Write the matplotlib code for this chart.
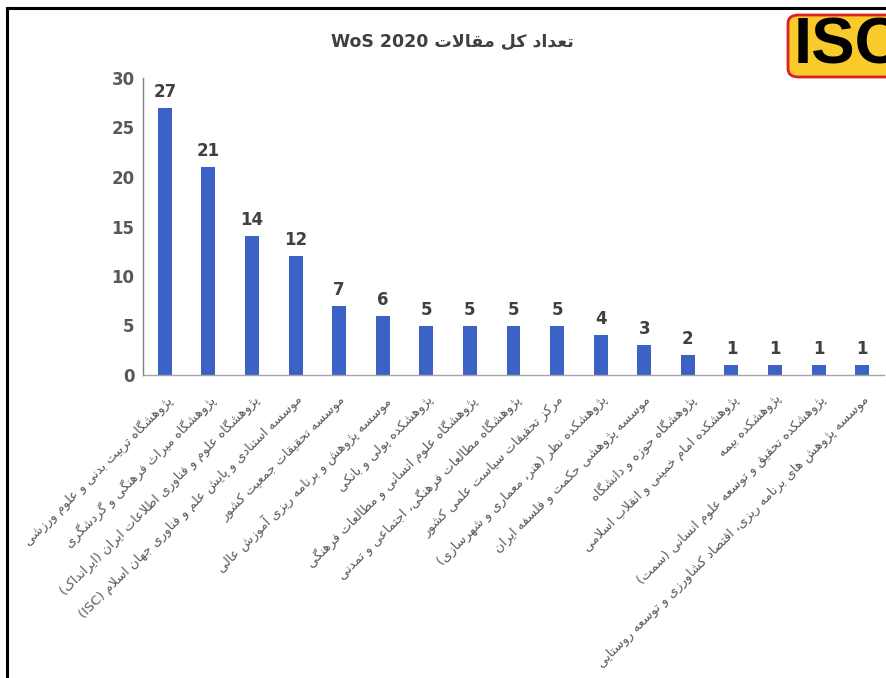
import matplotlib
matplotlib.use("Agg")
import matplotlib.pyplot as plt
from matplotlib.patches import FancyBboxPatch
from matplotlib.lines import Line2D

# ---------------- data ----------------
title_text = "تعداد کل مقالات WoS 2020"
categories = [
    "پژوهشگاه تربیت بدنی و علوم ورزشی",
    "پژوهشگاه میراث فرهنگی و گردشگری",
    "پژوهشگاه علوم و فناوری اطلاعات ایران (ایرانداک)",
    "موسسه استنادی و پایش علم و فناوری جهان اسلام (ISC)",
    "موسسه تحقیقات جمعیت کشور",
    "موسسه پژوهش و برنامه ریزی آموزش عالی",
    "پژوهشکده پولی و بانکی",
    "پژوهشگاه علوم انسانی و مطالعات فرهنگی",
    "پژوهشگاه مطالعات فرهنگی، اجتماعی و تمدنی",
    "مرکز تحقیقات سیاست علمی کشور",
    "پژوهشکده نظر (هنر، معماری و شهرسازی)",
    "موسسه پژوهشی حکمت و فلسفه ایران",
    "پژوهشگاه حوزه و دانشگاه",
    "پژوهشکده امام خمینی و انقلاب اسلامی",
    "پژوهشکده بیمه",
    "پژوهشکده تحقیق و توسعه علوم انسانی (سمت)",
    "موسسه پژوهش های برنامه ریزی، اقتصاد کشاورزی و توسعه روستایی",
]
values = [27, 21, 14, 12, 7, 6, 5, 5, 5, 5, 4, 3, 2, 1, 1, 1, 1]
yticks = [0, 5, 10, 15, 20, 25, 30]
logo_text = "ISC"

# ---------------- minimal Arabic/Persian shaping + bidi ----------------
FORMS = {
    'ا': (0xFE8D, 0xFE8E, None, None), 'آ': (0xFE81, 0xFE82, None, None),
    'أ': (0xFE83, 0xFE84, None, None), 'إ': (0xFE87, 0xFE88, None, None),
    'ب': (0xFE8F, 0xFE90, 0xFE91, 0xFE92), 'پ': (0xFB56, 0xFB57, 0xFB58, 0xFB59),
    'ت': (0xFE95, 0xFE96, 0xFE97, 0xFE98), 'ث': (0xFE99, 0xFE9A, 0xFE9B, 0xFE9C),
    'ج': (0xFE9D, 0xFE9E, 0xFE9F, 0xFEA0), 'چ': (0xFB7A, 0xFB7B, 0xFB7C, 0xFB7D),
    'ح': (0xFEA1, 0xFEA2, 0xFEA3, 0xFEA4), 'خ': (0xFEA5, 0xFEA6, 0xFEA7, 0xFEA8),
    'د': (0xFEA9, 0xFEAA, None, None), 'ذ': (0xFEAB, 0xFEAC, None, None),
    'ر': (0xFEAD, 0xFEAE, None, None), 'ز': (0xFEAF, 0xFEB0, None, None),
    'ژ': (0xFB8A, 0xFB8B, None, None),
    'س': (0xFEB1, 0xFEB2, 0xFEB3, 0xFEB4), 'ش': (0xFEB5, 0xFEB6, 0xFEB7, 0xFEB8),
    'ص': (0xFEB9, 0xFEBA, 0xFEBB, 0xFEBC), 'ض': (0xFEBD, 0xFEBE, 0xFEBF, 0xFEC0),
    'ط': (0xFEC1, 0xFEC2, 0xFEC3, 0xFEC4), 'ظ': (0xFEC5, 0xFEC6, 0xFEC7, 0xFEC8),
    'ع': (0xFEC9, 0xFECA, 0xFECB, 0xFECC), 'غ': (0xFECD, 0xFECE, 0xFECF, 0xFED0),
    'ف': (0xFED1, 0xFED2, 0xFED3, 0xFED4), 'ق': (0xFED5, 0xFED6, 0xFED7, 0xFED8),
    'ك': (0xFED9, 0xFEDA, 0xFEDB, 0xFEDC), 'ک': (0xFB8E, 0xFB8F, 0xFB90, 0xFB91),
    'گ': (0xFB92, 0xFB93, 0xFB94, 0xFB95),
    'ل': (0xFEDD, 0xFEDE, 0xFEDF, 0xFEE0), 'م': (0xFEE1, 0xFEE2, 0xFEE3, 0xFEE4),
    'ن': (0xFEE5, 0xFEE6, 0xFEE7, 0xFEE8), 'ه': (0xFEE9, 0xFEEA, 0xFEEB, 0xFEEC),
    'و': (0xFEED, 0xFEEE, None, None),
    'ي': (0xFEF1, 0xFEF2, 0xFEF3, 0xFEF4), 'ی': (0xFBFC, 0xFBFD, 0xFBFE, 0xFBFF),
    'ة': (0xFE93, 0xFE94, None, None), 'ئ': (0xFE89, 0xFE8A, 0xFE8B, 0xFE8C),
    'ؤ': (0xFE85, 0xFE86, None, None),
}
LAMALEF = {'ا': (0xFEFB, 0xFEFC), 'آ': (0xFEF5, 0xFEF6),
           'أ': (0xFEF7, 0xFEF8), 'إ': (0xFEF9, 0xFEFA)}


def _dual(c):
    return c in FORMS and FORMS[c][2] is not None


def shape(s):
    out, i, n = [], 0, len(s)
    while i < n:
        c = s[i]
        if c not in FORMS:
            out.append(c)
            i += 1
            continue
        pc = i > 0 and _dual(s[i - 1])
        if c == 'ل' and i + 1 < n and s[i + 1] in LAMALEF:
            iso, fin = LAMALEF[s[i + 1]]
            out.append(chr(fin if pc else iso))
            i += 2
            continue
        nc = _dual(c) and i + 1 < n and s[i + 1] in FORMS
        f = FORMS[c]
        if pc and nc:
            g = f[3]
        elif pc:
            g = f[1]
        elif nc:
            g = f[2]
        else:
            g = f[0]
        out.append(chr(g))
        i += 1
    return ''.join(out)


MIRROR = {'(': ')', ')': '('}


def visual(s):
    t = shape(s)
    cls = []
    for ch in t:
        if ch.isascii() and ch.isalnum():
            cls.append('L')
        elif ch in ' ()،,.-':
            cls.append('N')
        else:
            cls.append('R')
    res = cls[:]
    for i, c in enumerate(cls):
        if c == 'N':
            p = next((cls[j] for j in range(i - 1, -1, -1) if cls[j] != 'N'), 'R')
            q = next((cls[j] for j in range(i + 1, len(cls)) if cls[j] != 'N'), 'R')
            res[i] = 'L' if (p == 'L' and q == 'L') else 'R'
    runs = []
    for ch, c in zip(t, res):
        if runs and runs[-1][0] == c:
            runs[-1][1].append(ch)
        else:
            runs.append([c, [ch]])
    out = []
    for c, chars in reversed(runs):
        if c == 'L':
            out.append(''.join(chars))
        else:
            out.append(''.join(MIRROR.get(ch, ch) for ch in reversed(chars)))
    return ''.join(out)


# ---------------- figure ----------------
plt.rcParams['font.family'] = ['DejaVu Sans']
W, H = 886, 678
fig = plt.figure(figsize=(W / 100, H / 100), dpi=100)
fig.patch.set_facecolor('white')

ax = fig.add_axes([143 / W, (H - 375) / H, (884 - 143) / W, (375 - 78) / H])
x = list(range(len(values)))
ax.bar(x, values, width=0.32, color='#3C62C6', zorder=2)
ax.set_xlim(-0.5, len(values) - 0.5)
ax.set_ylim(0, 30)
ax.set_yticks(yticks)
ax.set_yticklabels([str(v) for v in yticks], fontsize=12, fontweight='bold', color='#595959')
ax.tick_params(axis='y', length=0, pad=6)
ax.tick_params(axis='x', length=0, pad=13)
ax.set_xticks(x)
ax.set_xticklabels([visual(c) for c in categories], rotation=45, ha='right',
                   va='top', rotation_mode='anchor', fontsize=9.4, color='#595959')
for lbl in ax.get_xticklabels():
    lbl.set_x(lbl.get_position()[0])
for s in ['top', 'right']:
    ax.spines[s].set_visible(False)
ax.spines['left'].set_color('#7F7F7F')
ax.spines['bottom'].set_color('#A6A6A6')
ax.spines['left'].set_linewidth(1.0)
ax.spines['bottom'].set_linewidth(1.0)

for xi, v in zip(x, values):
    ax.annotate(str(v), (xi, v), xytext=(0, 5), textcoords='offset points',
                ha='center', va='bottom', fontsize=12, fontweight='bold', color='#404040')

fig.text(452 / W, 1 - 42 / H, visual(title_text), ha='center', va='center',
         fontsize=12.5, fontweight='bold', color='#404040')

# frame lines
fig.add_artist(Line2D([7 / W, 7 / W], [0, 1 - 8 / H], color='black', lw=2.2,
                      transform=fig.transFigure))
fig.add_artist(Line2D([7 / W, 1], [1 - 8 / H, 1 - 8 / H], color='black', lw=2.2,
                      transform=fig.transFigure))

# logo
logo = FancyBboxPatch((788 / W, 1 - 77 / H), 120 / W, 62 / H,
                      boxstyle='round,pad=0,rounding_size=0.012',
                      transform=fig.transFigure, facecolor='#F8CB2A',
                      edgecolor='#E02020', lw=2.0, clip_on=False)
fig.add_artist(logo)
fig.text(794 / W, 1 - 46 / H, logo_text, ha='left', va='center', fontsize=47,
         fontweight='heavy', color='black', family='Liberation Sans')

fig.savefig('out.png', dpi=100, facecolor='white')
